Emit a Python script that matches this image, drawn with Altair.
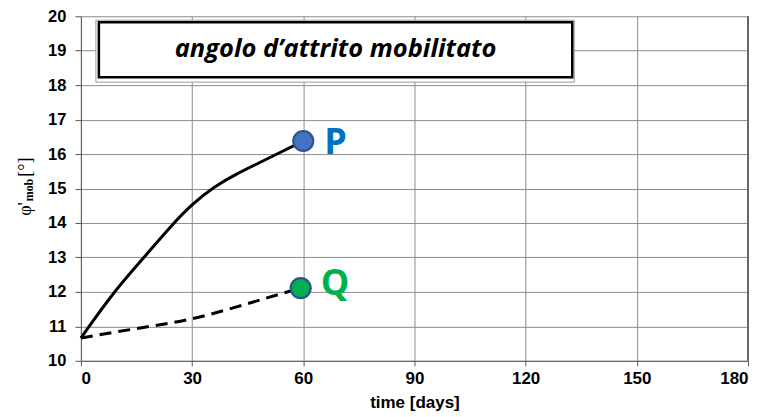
import altair as alt
import pandas as pd

# --- data ---
days_p = [0, 9, 18, 24, 30, 36, 42, 48, 54, 60]
phi_p = [10.66, 12.03, 13.12, 13.88, 14.55, 15.06, 15.43, 15.74, 16.06, 16.38]
days_q = [0, 10, 20, 30, 40, 50, 59.3]
phi_q = [10.66, 10.85, 11.02, 11.2, 11.5, 11.82, 12.11]
point_names = ["P", "Q"]
point_days = [60, 59.3]
point_phi = [16.38, 12.11]
point_fill = ["#4472C4", "#00B050"]
label_color = ["#0070C0", "#00B050"]
x_ticks = [0, 30, 60, 90, 120, 150, 180]
y_ticks = [10, 11, 12, 13, 14, 15, 16, 17, 18, 19, 20]
title_text = "angolo d\u2019attrito mobilitato"

df_p = pd.DataFrame({"t": days_p, "phi": phi_p})
df_q = pd.DataFrame({"t": days_q, "phi": phi_q})
df_pts = pd.DataFrame({"name": point_names, "t": point_days, "phi": point_phi,
                       "fill": point_fill, "lc": label_color})
one = pd.DataFrame({"a": [0]})

xs = alt.Scale(domain=[0, 180], nice=False, zero=False)
ys = alt.Scale(domain=[10, 20], nice=False, zero=False)

X = alt.X("t:Q", scale=xs, axis=alt.Axis(
    values=x_ticks, title="time [days]", tickSize=5, labelPadding=5, titlePadding=8,
    labelFontSize=17, titleFontSize=17, labelFont="Liberation Sans", labelFontWeight="bold",
    titleFont="Liberation Sans", titleFontWeight="bold"))
Y = alt.Y("phi:Q", scale=ys, axis=alt.Axis(
    values=y_ticks, title=None, tickSize=6, labelPadding=9, labelFontSize=16.5,
    labelFont="Liberation Sans", labelFontWeight="bold"))

line_p = alt.Chart(df_p).mark_line(color="black", strokeWidth=3, interpolate="basis").encode(x=X, y=Y)
line_q = alt.Chart(df_q).mark_line(color="black", strokeWidth=3, strokeDash=[12, 7],
                                   interpolate="basis").encode(x=X, y=Y)

pts = alt.Chart(df_pts).mark_point(filled=True, size=400, opacity=1, stroke="#2F528F",
                                   strokeWidth=2.2, strokeOpacity=1).encode(
    x=X, y=Y, fill=alt.Fill("fill:N", scale=None))

lbl_p = alt.Chart(df_pts[df_pts.name == "P"]).mark_text(
    align="left", baseline="middle", dx=21, dy=2, font="Open Sans", fontWeight="bold",
    fontSize=36).encode(x=X, y=Y, text="name:N", color=alt.Color("lc:N", scale=None))
lbl_q = alt.Chart(df_pts[df_pts.name == "Q"]).mark_text(
    align="left", baseline="middle", dx=20, dy=-4, font="Open Sans", fontWeight="bold",
    fontSize=36).encode(x=X, y=Y, text="name:N", color=alt.Color("lc:N", scale=None))

border = alt.Chart(pd.DataFrame({"t": [180]})).mark_rule(color="#666666", strokeWidth=2).encode(
    x=alt.X("t:Q", scale=xs))

box_outer = alt.Chart(one).mark_rect(fill="white", stroke="#9a9a9a", strokeWidth=1).encode(
    x=alt.value(15), x2=alt.value(494), y=alt.value(4), y2=alt.value(66))
box_inner = alt.Chart(one).mark_rect(fill="white", stroke="black", strokeWidth=2.5).encode(
    x=alt.value(18), x2=alt.value(492), y=alt.value(6), y2=alt.value(61))
box_text = alt.Chart(one).mark_text(
    text=title_text, font="Open Sans", fontStyle="italic", fontWeight="bold", fontSize=25.5,
    align="center", baseline="alphabetic", color="black").encode(x=alt.value(255), y=alt.value(41))

yt1 = alt.Chart(one).mark_text(text="\u03c6'", font="Liberation Serif", fontSize=18, angle=270,
                               align="center", baseline="alphabetic", color="black").encode(
    x=alt.value(-50), y=alt.value(193))
yt2 = alt.Chart(one).mark_text(text="mob", font="Liberation Serif", fontWeight="bold", fontSize=12,
                               angle=270, align="center", baseline="alphabetic", color="black").encode(
    x=alt.value(-48), y=alt.value(174))
yt3 = alt.Chart(one).mark_text(text="[\u00b0]", font="Liberation Serif", fontSize=18, angle=270,
                               align="center", baseline="alphabetic", color="black").encode(
    x=alt.value(-50), y=alt.value(151))

chart = alt.layer(
    border, line_q, line_p, pts, lbl_p, lbl_q, box_outer, box_inner, box_text, yt1, yt2, yt3
).properties(
    width=668, height=345,
    autosize=alt.AutoSizeParams(type="none"),
    padding={"left": 73, "top": 8, "right": 12, "bottom": 50},
).configure_view(stroke=None).configure_axis(
    labelColor="black", titleColor="black",
    gridColor="#8c8c8c", gridOpacity=1, gridWidth=1, domainColor="#595959", tickColor="#595959",
)

chart.save("out.html", embed_options={"renderer": "svg", "actions": False})
